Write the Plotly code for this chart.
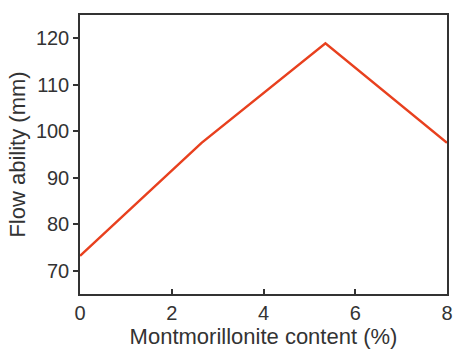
import plotly.graph_objects as go

montmorillonite = [0, 2.65, 5.35, 8]
flow_ability = [73.2, 97.5, 118.9, 97.5]
x_ticks = [0, 2, 4, 6, 8]
y_ticks = [70, 80, 90, 100, 110, 120]

fig = go.Figure(go.Scatter(x=montmorillonite, y=flow_ability, mode="lines",
                           line=dict(color="#e8401e", width=2.5)))

font = dict(family="Liberation Sans, Arial, sans-serif", size=18.5, color="#333333")
tickfont = dict(family="Liberation Sans, Arial, sans-serif", size=20, color="#333333")
fig.update_layout(
    width=457, height=350,
    margin=dict(l=80, r=4, t=15, b=56),
    paper_bgcolor="white", plot_bgcolor="white",
    showlegend=False, font=font,
)
fig.update_xaxes(range=[0, 8], tickvals=x_ticks, ticks="inside", ticklen=5, tickwidth=1.5,
                 tickcolor="#333333", showline=True, linecolor="#333333", linewidth=1.5,
                 mirror=True, showgrid=False, zeroline=False, tickfont=tickfont,
                 title=dict(text="Montmorillonite content (%)", standoff=4))
fig.update_yaxes(range=[65, 125], tickvals=y_ticks, ticks="outside", ticklen=5, tickwidth=1.5,
                 tickcolor="#333333", showline=True, linecolor="#333333", linewidth=1.5,
                 mirror=True, showgrid=False, zeroline=False, tickfont=tickfont,
                 title=dict(text="Flow ability (mm)", standoff=4))
fig.write_html("out.html")
